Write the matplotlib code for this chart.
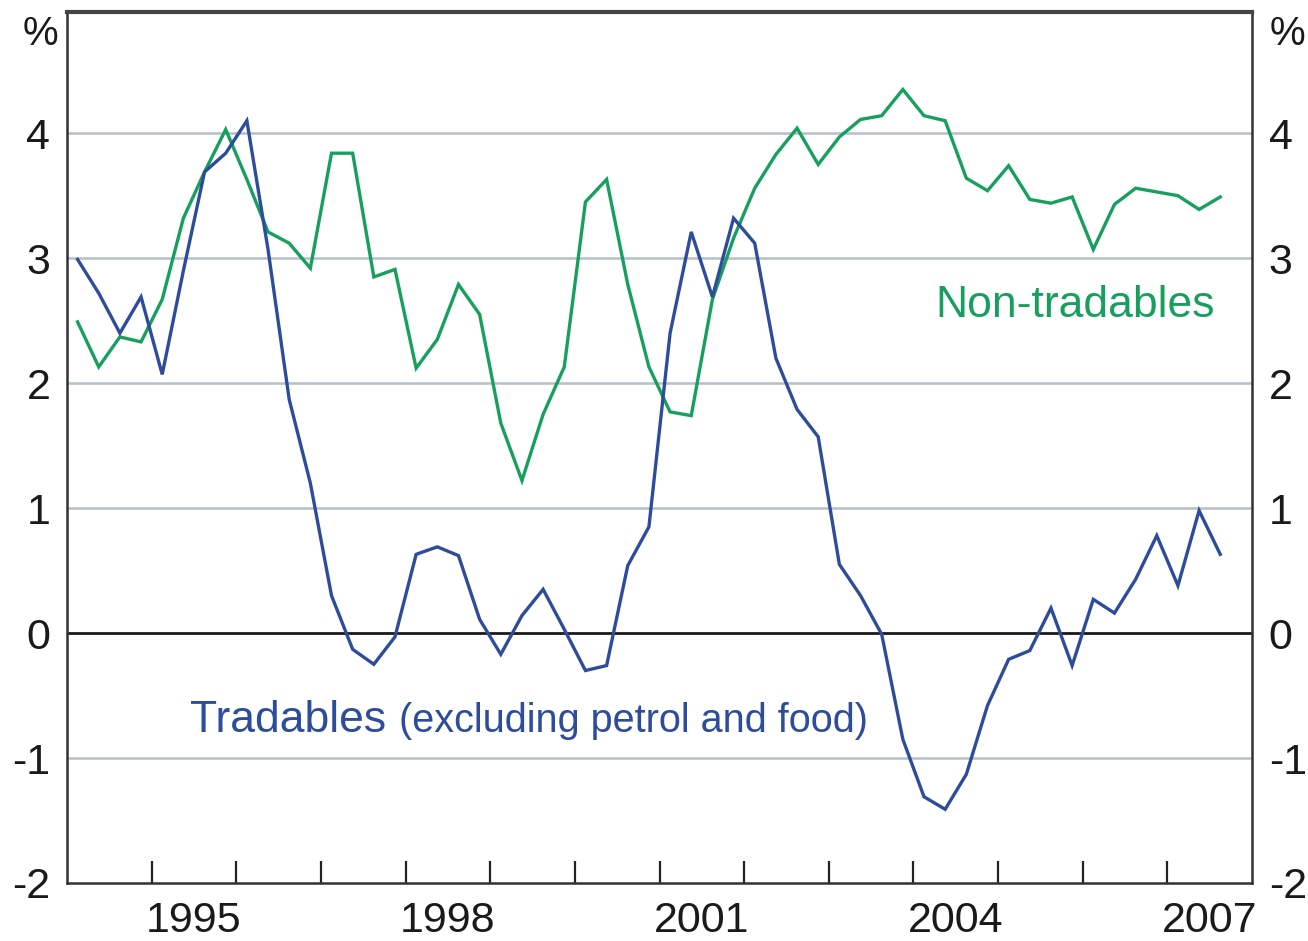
import matplotlib
matplotlib.use("Agg")
import matplotlib.pyplot as plt
import numpy as np

plt.rcParams['font.family'] = ['Liberation Sans', 'DejaVu Sans']

# Quarterly observations, 1994 Q1 .. 2007 Q3
start_year = 1994
n_quarters = 55
tradables = [2.99, 2.72, 2.40, 2.69, 2.07, 2.90, 3.69, 3.84, 4.10, 3.07,
             1.87, 1.20, 0.30, -0.13, -0.25, -0.03, 0.63, 0.69, 0.62, 0.11,
             -0.17, 0.14, 0.35, 0.03, -0.30, -0.26, 0.54, 0.85, 2.40, 3.21,
             2.69, 3.32, 3.12, 2.20, 1.79, 1.57, 0.55, 0.30, -0.01, -0.85,
             -1.31, -1.41, -1.13, -0.58, -0.21, -0.14, 0.20, -0.26, 0.27, 0.16,
             0.43, 0.78, 0.38, 0.98, 0.63]
non_tradables = [2.49, 2.13, 2.37, 2.33, 2.67, 3.32, 3.69, 4.03, 3.63, 3.21,
                 3.12, 2.92, 3.84, 3.84, 2.85, 2.91, 2.12, 2.35, 2.79, 2.55,
                 1.68, 1.22, 1.75, 2.13, 3.45, 3.63, 2.79, 2.13, 1.77, 1.74,
                 2.67, 3.16, 3.56, 3.83, 4.04, 3.75, 3.97, 4.11, 4.14, 4.35,
                 4.14, 4.10, 3.64, 3.54, 3.74, 3.47, 3.44, 3.49, 3.07, 3.43,
                 3.56, 3.53, 3.50, 3.39, 3.49]
year_labels = ['1995', '1998', '2001', '2004', '2007']
y_ticks = [-2, -1, 0, 1, 2, 3, 4]

x = start_year + (np.arange(n_quarters) + 0.5) / 4.0

BLUE = '#2D4C9C'
GREEN = '#17A05D'
GRID = '#B7BFCA'
FS = 31

fig = plt.figure(figsize=(13.08, 9.41), dpi=100)
ax = fig.add_axes([67/1308, 1 - 883/941, (1252-67)/1308, (883-12)/941])

ax.set_xlim(1994, 2008)
ax.set_ylim(-2, 4.97)

for v in [1, 2, 3, 4, -1]:
    ax.axhline(v, color=GRID, lw=1.8, zorder=1)
ax.axhline(0, color='#1a1a1a', lw=2.0, zorder=2)

ax.plot(x, non_tradables, color=GREEN, lw=2.4, zorder=3, solid_joinstyle='miter')
ax.plot(x, tradables, color=BLUE, lw=2.4, zorder=4, solid_joinstyle='miter')

# x ticks at year boundaries, labels at mid-year
ax.set_xticks(np.arange(1995, 2008))
ax.set_xticklabels([])
ax.tick_params(axis='x', which='major', direction='in', length=16, width=1.6,
               color='#222222')
ax.set_xticks([int(y) + 0.5 for y in year_labels], minor=True)
ax.set_xticklabels(year_labels, minor=True)
ax.tick_params(axis='x', which='minor', length=0, labelsize=FS, pad=13,
               labelcolor='#1a1a1a')

ax.set_yticks(y_ticks)
ax.set_yticklabels([str(v) for v in y_ticks])
ax.tick_params(axis='y', length=0, labelsize=FS, pad=12, labelcolor='#1a1a1a',
               left=True, right=True, labelleft=True, labelright=True)

for s in ['left', 'right', 'bottom']:
    ax.spines[s].set_color('#333333')
    ax.spines[s].set_linewidth(1.8)
ax.spines['top'].set_color('#444444')
ax.spines['top'].set_linewidth(3.0)

ax.text((40 - 67) / (1252 - 67), 0.975, '%', transform=ax.transAxes,
        ha='center', va='center', fontsize=29, color='#1a1a1a')
ax.text((1287 - 67) / (1252 - 67), 0.975, '%', transform=ax.transAxes,
        ha='center', va='center', fontsize=29, color='#1a1a1a')

ax.text(2007.56, 2.62, 'Non-tradables', ha='right', va='center', fontsize=32,
        color=GREEN)
t1 = ax.text(1995.45, -0.70, 'Tradables', ha='left', va='center', fontsize=32,
             color=BLUE)
fig.canvas.draw()
bb = t1.get_window_extent()
x_end = ax.transData.inverted().transform((bb.x1, bb.y0))[0]
ax.text(x_end + 0.15, -0.70, '(excluding petrol and food)', ha='left',
        va='center', fontsize=28.5, color=BLUE)

fig.savefig('out.png', dpi=100)
